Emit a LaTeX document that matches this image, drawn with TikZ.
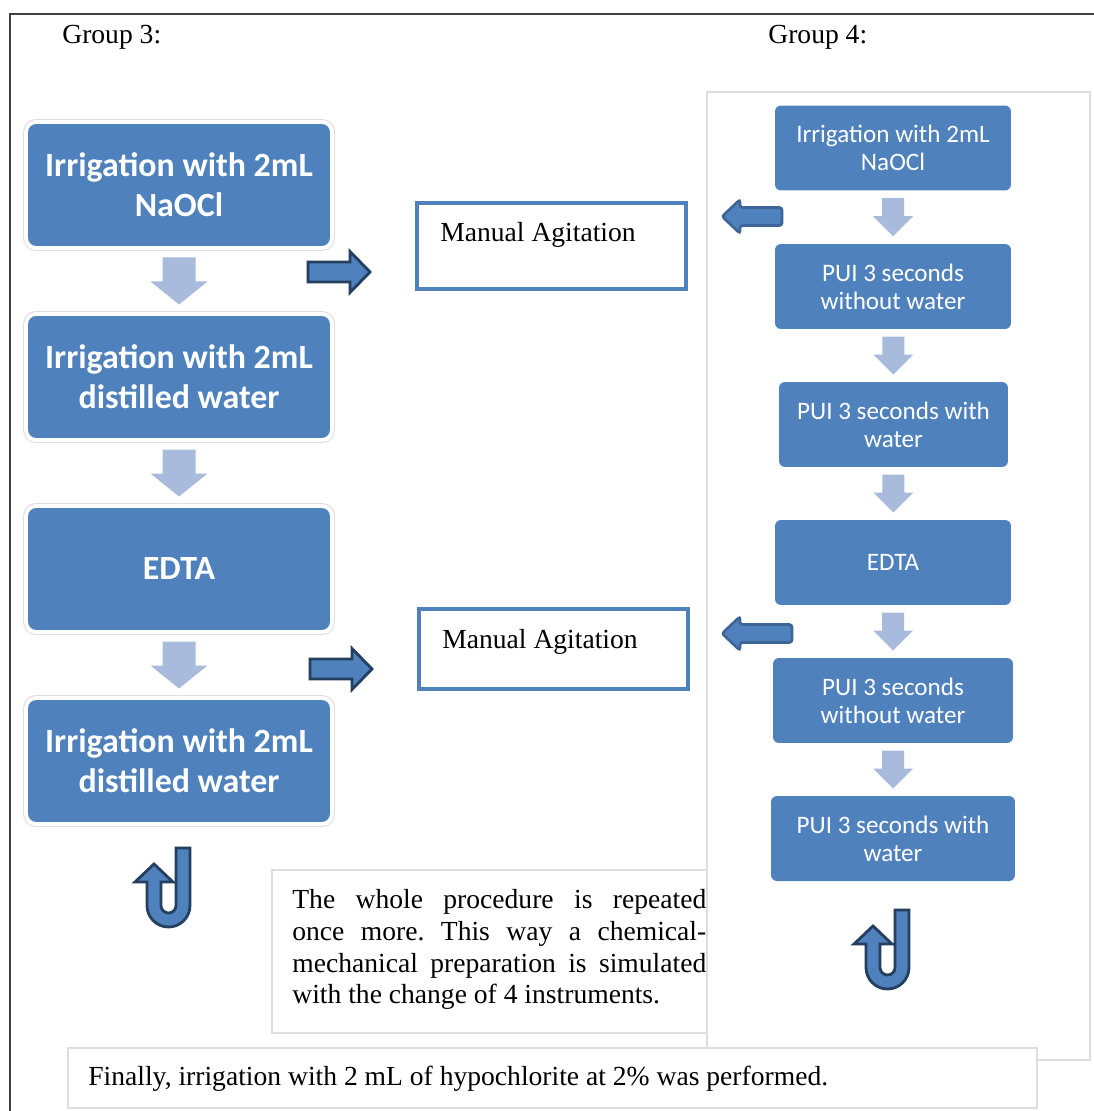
\documentclass[tikz,border=0pt]{standalone}
\usepackage{fontspec}
\setmainfont{Liberation Serif}
\newfontfamily\calfont{Carlito}
\usetikzlibrary{calc}
\frenchspacing
\definecolor{boxblue}{HTML}{4F81BD}
\definecolor{lightarr}{HTML}{A8BBDC}
\definecolor{darkline}{HTML}{243F60}
\definecolor{midline}{HTML}{3D6597}
\definecolor{framegray}{HTML}{404040}
\definecolor{shadowgray}{HTML}{DEDEDE}
\tikzset{
  bigbox/.style={fill=boxblue, rounded corners=0.2cm, text=white,
    font=\calfont\bfseries\fontsize{19.3}{22.7}\selectfont, align=center, inner sep=0pt,
    minimum width=6.12cm, minimum height=2.52cm,
    preaction={draw=shadowgray, line width=3.4pt},
    draw=white, line width=2.2pt},
  smallbox/.style={fill=boxblue, rounded corners=0.12cm, text=white,
    font=\calfont\fontsize{14.3}{16}\selectfont, align=center, inner sep=0pt,
    minimum height=1.7cm},
  manbox/.style={draw=boxblue, line width=1.8pt, fill=white, inner sep=0pt},
  serif/.style={font=\fontsize{15.7}{18.1}\selectfont, inner sep=0pt, text=black},
  panel/.style={draw=shadowgray, line width=1pt, fill=white},
  pics/bigdown/.style={code={
    \fill[lightarr] (-16.5,-23.5) -- (16.5,-23.5) -- (16.5,0.5) -- (28.5,0.5) -- (0,23.5) -- (-28.5,0.5) -- (-16.5,0.5) -- cycle;}},
  pics/smalldown/.style={code={
    \fill[lightarr] (-11,-19) -- (11,-19) -- (11,-1) -- (20,-1) -- (0,19) -- (-20,-1) -- (-11,-1) -- cycle;}},
  pics/rightarr/.style={code={
    \draw[darkline, fill=boxblue, line width=1.6pt, line join=miter]
      (0,-10) -- (42,-10) -- (42,-20.5) -- (62,0) -- (42,20.5) -- (42,10) -- (0,10) -- cycle;}},
  pics/leftarr/.style={code={
    \draw[midline, fill=boxblue, line width=1.5pt, rounded corners=1.5pt]
      (0,0) -- (18,-17) -- (18,-9) -- (#1,-9) -- (#1,9) -- (18,9) -- (18,17) -- cycle;}},
  pics/uturn/.style={code={
    \draw[darkline, fill=boxblue, line width=1.6pt, line join=miter]
      (21.5,-57.5) -- (21.5,0) arc[start angle=0, end angle=180, radius=21.5]
      -- (-21.5,-23.5) -- (-33.5,-23.5) -- (-14.5,-41.5) -- (4.5,-23.5) -- (-7.5,-23.5)
      -- (-7.5,0) arc[start angle=180, end angle=0, radius=7.5]
      -- (7.5,-57.5) -- cycle;}}
}
\begin{document}
\begin{tikzpicture}[x=0.02cm, y=-0.02cm]
\useasboundingbox (0,0) rectangle (1094,1111);
\fill[white] (0,0) rectangle (1094,1111);

% frame
\draw[framegray, line width=1.3pt] (10,1111) -- (10,14) -- (1094,14);

% light panels
\draw[panel] (707,92) rectangle (1090,1060);
\draw[panel] (272,870) rectangle (707,1033);
\draw[panel] (68,1048) rectangle (1037,1108);

% group labels
\node[serif, anchor=base west] (lab3) at (62,44) {Group 3:};
\node[serif, anchor=base west] (lab4) at (768,44) {Group 4:};

% group 3 column
\node[bigbox] (g3a) at (179,185) {Irrigation with 2mL\\NaOCl};
\node[bigbox] (g3b) at (179,377) {Irrigation with 2mL\\distilled water};
\node[bigbox] (g3c) at (179,569) {EDTA};
\node[bigbox] (g3d) at (179,761) {Irrigation with 2mL\\distilled water};

\pic at ($(g3a.south)!0.5!(g3b.north)$) {bigdown};
\pic at ($(g3b.south)!0.5!(g3c.north)$) {bigdown};
\pic at ($(g3c.south)!0.5!(g3d.north)$) {bigdown};

% manual agitation boxes
\node[manbox, minimum width=5.38cm, minimum height=1.72cm] (m1) at (551.5,246) {};
\node[serif, anchor=base west] (m1t) at (440,242) {Manual Agitation};
\node[manbox, minimum width=5.38cm, minimum height=1.6cm] (m2) at (553.5,649) {};
\node[serif, anchor=base west] (m2t) at (442,648) {Manual Agitation};

\pic at (308,272) {rightarr};
\pic at (310,669) {rightarr};

% group 4 column
\node[smallbox, minimum width=4.72cm] (r1) at (893,148) {Irrigation with 2mL\\NaOCl};
\node[smallbox, minimum width=4.72cm] (r2) at (893,286.5) {PUI 3 seconds\\without water};
\node[smallbox, minimum width=4.58cm] (r3) at (893.5,424.5) {PUI 3 seconds with\\water};
\node[smallbox, minimum width=4.72cm] (r4) at (893,562.5) {EDTA};
\node[smallbox, minimum width=4.8cm] (r5) at (893,700.5) {PUI 3 seconds\\without water};
\node[smallbox, minimum width=4.88cm] (r6) at (893,838.5) {PUI 3 seconds with\\water};

\pic at ($(r1.south)!0.5!(r2.north)$) {smalldown};
\pic at ($(r2.south)!0.5!(r3.north)$) {smalldown};
\pic at ($(r3.south)!0.5!(r4.north)$) {smalldown};
\pic at ($(r4.south)!0.5!(r5.north)$) {smalldown};
\pic at ($(r5.south)!0.5!(r6.north)$) {smalldown};

\pic at (722,216.5) {leftarr=60};
\pic at (722,633.5) {leftarr=70};

% u-turn arrows
\pic at (168.5,905.5) {uturn};
\pic at (887.5,967.5) {uturn};

% texts
\node[serif, anchor=north west, align=left] (para) at (292,889)
  {\makebox[8.28cm][s]{The whole procedure is repeated}\\
   \makebox[8.28cm][s]{once more. This way a chemical-}\\
   \makebox[8.28cm][s]{mechanical preparation is simulated}\\
   with the change of 4 instruments.};
\node[serif, anchor=base west] (final) at (88,1085)
  {Finally, irrigation with 2 mL of hypochlorite at 2\% was performed.};
\end{tikzpicture}
\end{document}
